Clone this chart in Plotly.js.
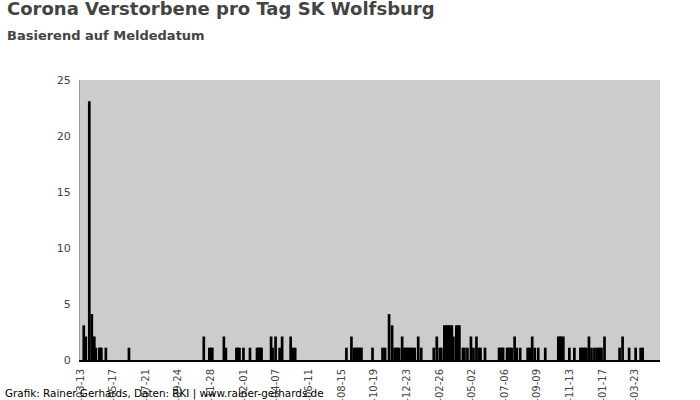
<!DOCTYPE html>
<html>
<head>
<meta charset="utf-8">
<script src="https://cdn.plot.ly/plotly-3.0.1.min.js"></script>
<style>html,body{margin:0;padding:0;background:#fff;}#chart{width:700px;height:400px;}</style>
</head>
<body>
<div id="chart"></div>
<script>
// Days with reported deaths (all other days: 0)
const dates = [
  "2020-03-20","2020-03-24","2020-03-31","2020-04-05","2020-04-10","2020-04-13",
  "2020-04-20","2020-04-22","2020-04-24","2020-05-03","2020-06-18",
  "2020-11-14","2020-11-25","2020-11-28","2020-12-01","2020-12-24","2020-12-28",
  "2021-01-18","2021-01-21","2021-01-24","2021-02-01","2021-02-14",
  "2021-02-28","2021-03-03","2021-03-06","2021-03-09",
  "2021-03-28","2021-03-31","2021-04-06","2021-04-14","2021-04-19",
  "2021-05-06","2021-05-11","2021-05-15",
  "2021-08-25","2021-09-04","2021-09-09","2021-09-12","2021-09-15","2021-09-18","2021-09-21","2021-09-24",
  "2021-10-16","2021-11-05","2021-11-10","2021-11-18","2021-11-24",
  "2021-11-29","2021-12-02","2021-12-05","2021-12-08","2021-12-14",
  "2021-12-18","2021-12-21","2021-12-24","2021-12-27","2021-12-30",
  "2022-01-02","2022-01-05","2022-01-08","2022-01-15","2022-01-21",
  "2022-02-15","2022-02-21","2022-02-27","2022-03-02",
  "2022-03-08","2022-03-11","2022-03-14","2022-03-17","2022-03-20","2022-03-23","2022-03-26",
  "2022-04-01","2022-04-04","2022-04-07","2022-04-14","2022-04-17","2022-04-23","2022-04-30",
  "2022-05-05","2022-05-11","2022-05-16","2022-05-19","2022-05-28",
  "2022-06-25","2022-06-28","2022-07-01","2022-07-03",
  "2022-07-11","2022-07-14","2022-07-17","2022-07-20","2022-07-26","2022-07-30",
  "2022-08-06","2022-08-21","2022-08-24","2022-08-27","2022-08-30",
  "2022-09-04","2022-09-11","2022-09-25",
  "2022-10-21","2022-10-24","2022-10-27","2022-10-31","2022-11-12","2022-11-22",
  "2022-12-04","2022-12-07","2022-12-10","2022-12-13","2022-12-16","2022-12-21","2022-12-26",
  "2023-01-01","2023-01-06","2023-01-09","2023-01-12","2023-01-15","2023-01-21",
  "2023-02-20","2023-02-26","2023-03-11","2023-03-24","2023-04-03","2023-04-07"
];
const deaths = [
  3,2,23,4,2,1,
  1,1,1,1,1,
  2,1,1,1,2,1,
  1,1,1,1,1,
  1,1,1,1,
  2,1,2,1,2,
  2,1,1,
  1,2,1,1,1,1,1,1,
  1,1,1,4,3,
  1,1,1,1,2,
  1,1,1,1,1,
  1,1,1,2,1,
  1,2,1,1,
  3,3,3,3,3,3,2,
  3,3,3,1,1,1,2,
  1,2,1,1,1,
  1,1,1,1,
  1,1,1,1,2,1,
  1,1,1,1,2,
  1,1,1,
  2,2,2,2,1,1,
  1,1,1,1,1,2,1,
  1,1,1,1,1,2,
  1,2,1,1,1,1
];
const yTicks = [0, 5, 10, 15, 20, 25];
const firstTick = "2020-03-13";
const tickStepDays = 65;

const titleText = "Corona Verstorbene pro Tag SK Wolfsburg";
const subtitleText = "Basierend auf Meldedatum";
const footerText = "Grafik: Rainer Gerhards, Daten: RKI | www.rainer-gerhards.de";

const DAY = 86400000;

const trace = {
  type: "bar",
  x: dates,
  y: deaths,
  width: DAY,
  marker: { color: "#000000", line: { color: "#000000", width: 2.2 } },
  hoverinfo: "x+y"
};

const layout = {
  width: 700,
  height: 400,
  margin: { l: 80, r: 40, t: 80, b: 40, pad: 0 },
  paper_bgcolor: "#ffffff",
  plot_bgcolor: "#cccccc",
  showlegend: false,
  bargap: 0,
  font: { family: "DejaVu Sans", color: "#444444" },
  title: {
    text: "<b>" + titleText + "</b>",
    font: { family: "DejaVu Sans", size: 18, color: "#444444" },
    xref: "container", yref: "container",
    x: 7 / 700, xanchor: "left",
    y: 0.995, yanchor: "top",
    pad: { t: 0, l: 0, r: 0, b: 0 }
  },
  xaxis: {
    type: "date",
    range: ["2020-03-12 12:00", "2023-05-11 12:00"],
    tick0: firstTick,
    dtick: tickStepDays * DAY,
    tickformat: "%Y-%m-%d",
    tickangle: -90,
    tickfont: { family: "DejaVu Sans", size: 10, color: "#444444" },
    ticks: "outside",
    ticklen: 3,
    tickcolor: "#ffffff",
    showgrid: false,
    zeroline: false,
    showline: true,
    linecolor: "#000000",
    linewidth: 2,
    fixedrange: true
  },
  yaxis: {
    range: [0, 25],
    tickvals: yTicks,
    ticktext: yTicks.map(String),
    tickfont: { family: "DejaVu Sans", size: 11, color: "#444444" },
    ticks: "outside",
    ticklen: 6,
    tickcolor: "#ffffff",
    showgrid: false,
    zeroline: false,
    showline: true,
    linecolor: "#999999",
    linewidth: 1,
    fixedrange: true
  },
  annotations: [
    {
      text: "<b>" + subtitleText + "</b>",
      xref: "paper", yref: "paper",
      x: (5 - 80) / 580, xanchor: "left",
      y: (360 - 36) / 280, yanchor: "middle",
      showarrow: false,
      font: { family: "DejaVu Sans", size: 13, color: "#444444" }
    },
    {
      text: footerText,
      xref: "paper", yref: "paper",
      x: (3 - 80) / 580, xanchor: "left",
      y: (360 - 393.5) / 280, yanchor: "middle",
      showarrow: false,
      font: { family: "DejaVu Sans", size: 10.4, color: "#000000" }
    }
  ]
};

Plotly.newPlot("chart", [trace], layout, { displayModeBar: false, staticPlot: true });
</script>
</body>
</html>
